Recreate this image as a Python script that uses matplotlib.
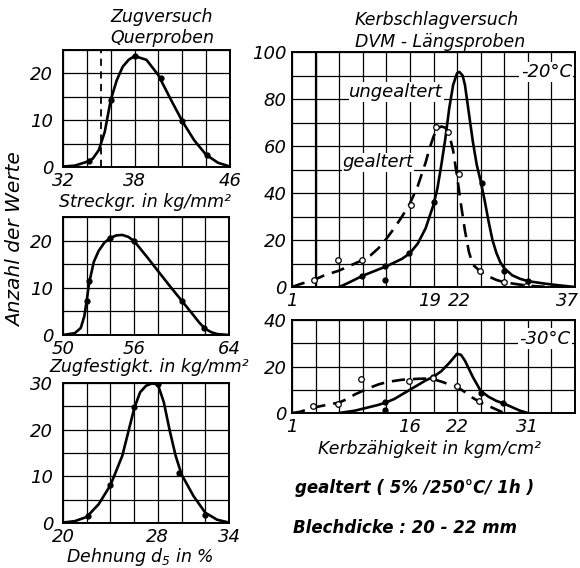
import matplotlib
matplotlib.use("Agg")
import matplotlib.pyplot as plt
import matplotlib.transforms as mtransforms
import numpy as np

plt.rcParams['font.family'] = ['DejaVu Sans']
plt.rcParams['font.style'] = 'italic'
plt.rcParams['mathtext.default'] = 'it'

# ---------------- data ----------------
# Streckgrenze (yield strength), kg/mm^2
streck_x = [32, 33, 34, 34.5, 35, 35.5, 36, 36.5, 37, 37.5, 38, 39, 40, 41, 42, 43, 44, 45, 46]
streck_y = [0.1, 0.3, 1.1, 1.8, 3.6, 7.5, 14.3, 18.5, 21.4, 22.9, 23.7, 22.9, 19.6, 14.6, 9.8, 5.7, 2.6, 0.9, 0.1]
streck_dot_x = [34.2, 36, 38, 40.2, 42, 44.1]
streck_dot_y = [1.3, 14.3, 23.7, 19.0, 9.8, 2.6]
streck_dashed = 35.2
streck_xticks = [32, 38, 46]
streck_yticks = [0, 10, 20]

# Zugfestigkeit (tensile strength), kg/mm^2
zug_x = [50, 51, 51.5, 51.8, 52, 52.2, 52.6, 53, 53.5, 54, 54.5, 55, 55.5, 56, 57, 58, 59, 60, 61, 61.5, 62, 62.5, 63, 64]
zug_y = [0, 0.4, 1.5, 4.0, 7.3, 11.0, 15.5, 17.8, 19.6, 20.6, 21.1, 21.2, 20.8, 19.9, 16.8, 13.6, 10.4, 7.3, 4.2, 2.6, 1.3, 0.6, 0.2, 0]
zug_dot_x = [52, 52.2, 54, 56, 60, 61.9]
zug_dot_y = [7.3, 11.4, 20.5, 19.9, 7.3, 1.4]
zug_xticks = [50, 56, 64]
zug_yticks = [0, 10, 20]

# Dehnung (elongation), %
dehn_x = [20, 21, 22, 23, 24, 25, 26, 26.5, 27, 27.5, 28, 28.5, 29, 29.5, 30, 31, 32, 33, 34]
dehn_y = [0.1, 0.4, 1.3, 4.0, 8.1, 14.4, 24.5, 28.0, 29.4, 29.9, 29.7, 25.9, 19.8, 14.4, 10.4, 5.8, 2.2, 0.7, 0.1]
dehn_dot_x = [22.1, 24, 26, 28, 29.8, 32]
dehn_dot_y = [1.4, 8.1, 24.8, 29.8, 10.8, 1.7]
dehn_xticks = [20, 28, 34]
dehn_yticks = [0, 10, 20, 30]

# Kerbschlag -20 C
k20_ung_x = [7, 8, 10, 13, 15, 16, 17, 18, 19, 19.5, 20, 20.5, 21, 21.5, 22, 22.3, 22.7, 23, 23.5, 24, 24.5, 25, 25.5, 26, 26.5, 27, 27.5, 28, 29, 30, 31, 33, 35, 37]
k20_ung_y = [0, 1.5, 4.8, 8.8, 12.0, 14.4, 18.5, 25, 35, 42, 52, 63, 76, 86, 91, 91.5, 90, 86, 74, 62, 52, 45, 37, 28, 20, 14.5, 10.5, 8, 5, 3.5, 2.5, 1.5, 0.7, 0]
k20_ung_dot_x = [9.9, 12.8, 12.8, 15.9, 19.1, 25.2, 28, 31]
k20_ung_dot_y = [4.8, 8.8, 3.0, 14.4, 36, 44.4, 7.0, 2.5]
k20_gea_x = [1, 2, 3.8, 5, 7, 9, 10, 11, 12, 13, 14, 15, 16, 17, 18, 18.5, 19, 19.5, 20, 20.5, 21, 21.5, 22, 22.5, 23, 23.5, 24, 25, 26, 27, 28, 30, 32, 34]
k20_gea_y = [0, 1.2, 3.0, 4.8, 7, 10, 11.5, 13.5, 16.5, 20.5, 25, 30, 35.5, 43, 53, 59, 64, 67.5, 68.3, 67.8, 65, 58, 47, 35, 24, 15, 9.5, 6.5, 4.5, 3, 2, 1, 0.3, 0]
k20_gea_circ_x = [3.8, 6.9, 9.9, 16.1, 19.3, 20.9, 22.2, 24.9, 28, 30.8]
k20_gea_circ_y = [3.0, 11.6, 11.3, 35, 68, 66, 48, 7, 2, 0.6]
k20_xticks = [1, 19, 22, 37]
k20_yticks = [0, 20, 40, 60, 80, 100]

# Kerbschlag -30 C
k30_ung_x = [7, 9, 12, 13, 14, 15, 16, 17, 18, 19, 20, 21, 22, 22.5, 23, 24, 25, 26, 27, 28, 29, 30, 31]
k30_ung_y = [0, 1, 3.5, 4.6, 6, 8, 10, 12, 14, 15.6, 18, 21.5, 25.5, 25, 22.5, 15.5, 9.5, 7, 5.2, 4, 2.5, 1, 0]
k30_ung_dot_x = [12.8, 12.8, 18.9, 25, 27.9]
k30_ung_dot_y = [4.6, 1.1, 15.4, 8.5, 4.3]
k30_gea_x = [1, 2, 3.7, 5, 7, 8, 9, 10, 11, 12, 13, 14, 15, 16, 17, 18, 19, 20, 21, 22, 23, 24, 25, 26, 27, 28]
k30_gea_y = [0, 0.5, 2.3, 3.2, 4.5, 6, 8, 9.5, 11, 12.3, 13.2, 13.8, 14.3, 14.5, 14.7, 14.8, 14.5, 13.5, 12.3, 11.2, 9, 6.5, 4.5, 3, 1.5, 0]
k30_gea_circ_x = [3.7, 6.8, 9.8, 15.9, 18.9, 22.05, 24.8]
k30_gea_circ_y = [2.9, 4.0, 14.6, 13.6, 15.0, 11.4, 5.0]
k30_xticks = [1, 16, 22, 31]
k30_yticks = [0, 20, 40]

W, H = 580, 568
fig = plt.figure(figsize=(W / 100, H / 100), dpi=100)
fig.patch.set_facecolor('white')


def px_axes(x0, y0, x1, y1):
    return fig.add_axes([x0 / W, 1 - y1 / H, (x1 - x0) / W, (y1 - y0) / H])


def style(ax, xlim, ylim, xstep, ystep, xticks, yticks, fs=13, ypad=7):
    ax.set_xlim(*xlim)
    ax.set_ylim(*ylim)
    ax.set_xticks(np.arange(xlim[0], xlim[1] + 0.01, xstep), minor=True)
    ax.set_yticks(np.arange(ylim[0], ylim[1] + 0.01, ystep), minor=True)
    ax.set_xticks(xticks)
    ax.set_yticks(yticks)
    ax.grid(which='both', color='black', linewidth=0.9)
    ax.tick_params(which='both', length=0, labelsize=fs)
    ax.tick_params(axis='x', pad=3.5)
    ax.tick_params(axis='y', pad=ypad)
    for s in ax.spines.values():
        s.set_linewidth(1.4)
    for lab in ax.get_xticklabels() + ax.get_yticklabels():
        lab.set_fontstyle('italic')
    ax.set_axisbelow(True)


def nudge(label, dx_px):
    label.set_transform(label.get_transform() +
                        mtransforms.ScaledTranslation(dx_px / 100, 0, fig.dpi_scale_trans))


LW = 1.9

# top-left
ax1 = px_axes(63, 50, 230, 167)
style(ax1, (32, 46), (0, 25), 2, 5, streck_xticks, streck_yticks)
ax1.axvline(streck_dashed, color='black', linestyle=(0, (4, 3)), linewidth=1.3)
ax1.plot(streck_x, streck_y, color='black', linewidth=LW)
ax1.plot(streck_dot_x, streck_dot_y, 'o', color='black', markersize=3.5)

# middle-left
ax2 = px_axes(63, 217, 229, 335)
style(ax2, (50, 64), (0, 25), 2, 5, zug_xticks, zug_yticks)
ax2.plot(zug_x, zug_y, color='black', linewidth=LW)
ax2.plot(zug_dot_x, zug_dot_y, 'o', color='black', markersize=3.5)

# bottom-left
ax3 = px_axes(63, 383, 229, 523)
style(ax3, (20, 34), (0, 30), 2, 5, dehn_xticks, dehn_yticks)
ax3.plot(dehn_x, dehn_y, color='black', linewidth=LW)
ax3.plot(dehn_dot_x, dehn_dot_y, 'o', color='black', markersize=3.5)

# right top
ax4 = px_axes(292, 52, 575, 287)
style(ax4, (1, 37), (0, 100), 3, 10, k20_xticks, k20_yticks, ypad=4)
ax4.axvline(4, color='black', linewidth=1.6)
ax4.plot(k20_gea_x, k20_gea_y, color='black', linewidth=LW, linestyle=(0, (5, 3)))
ax4.plot(k20_ung_x, k20_ung_y, color='black', linewidth=LW)
ax4.plot(k20_ung_dot_x, k20_ung_dot_y, 'o', color='black', markersize=3.5)
ax4.plot(k20_gea_circ_x, k20_gea_circ_y, 'o', markerfacecolor='white', markeredgecolor='black',
         markersize=4, markeredgewidth=0.9)
ax4.text(8.3, 83, 'ungealtert', fontsize=13, ha='left', va='center',
         bbox=dict(facecolor='white', edgecolor='none', pad=0.5))
ax4.text(7.4, 53, 'gealtert', fontsize=13, ha='left', va='center',
         bbox=dict(facecolor='white', edgecolor='none', pad=0.5))
ax4.text(36.6, 91.5, '-20°C', fontsize=13, ha='right', va='center',
         bbox=dict(facecolor='white', edgecolor='none', pad=1))

# right bottom
ax5 = px_axes(292, 320, 575, 413)
style(ax5, (1, 37), (0, 40), 3, 10, k30_xticks, k30_yticks, ypad=4)
ax5.plot(k30_gea_x, k30_gea_y, color='black', linewidth=LW, linestyle=(0, (5, 3)))
ax5.plot(k30_ung_x, k30_ung_y, color='black', linewidth=LW)
ax5.plot(k30_ung_dot_x, k30_ung_dot_y, 'o', color='black', markersize=3.5)
ax5.plot(k30_gea_circ_x, k30_gea_circ_y, 'o', markerfacecolor='white', markeredgecolor='black',
         markersize=4, markeredgewidth=0.9)
ax5.text(36.4, 32, '-30°C', fontsize=13, ha='right', va='center',
         bbox=dict(facecolor='white', edgecolor='none', pad=1))

xl4 = ax4.get_xticklabels()
nudge(xl4[1], -4)
nudge(xl4[2], 2)
nudge(xl4[-1], -8)


def ftext(x, y, s, ha='center', fs=12.5, **kw):
    fig.text(x / W, 1 - y / H, s, ha=ha, va='center', fontsize=fs, fontstyle='italic', **kw)


ftext(162, 17, 'Zugversuch')
ftext(162, 38, 'Querproben')
ftext(437, 20, 'Kerbschlagversuch')
ftext(440, 42, 'DVM - Längsproben')
ftext(145, 202, 'Streckgr. in kg/mm²')
ftext(149, 367, 'Zugfestigkt. in kg/mm²')
ftext(140, 557, 'Dehnung d$_5$ in %')
ftext(430, 449, 'Kerbzähigkeit in kgm/cm²')
ftext(295, 488, 'gealtert ( 5% /250°C/ 1h )', ha='left', fs=12, fontweight='bold')
ftext(293, 528, 'Blechdicke : 20 - 22 mm', ha='left', fs=12, fontweight='bold')
fig.text(16 / W, 1 - 240 / H, 'Anzahl der Werte', rotation=90, ha='center', va='center',
         fontsize=14.5, fontstyle='italic')

fig.savefig('out.png', dpi=100, facecolor='white')
